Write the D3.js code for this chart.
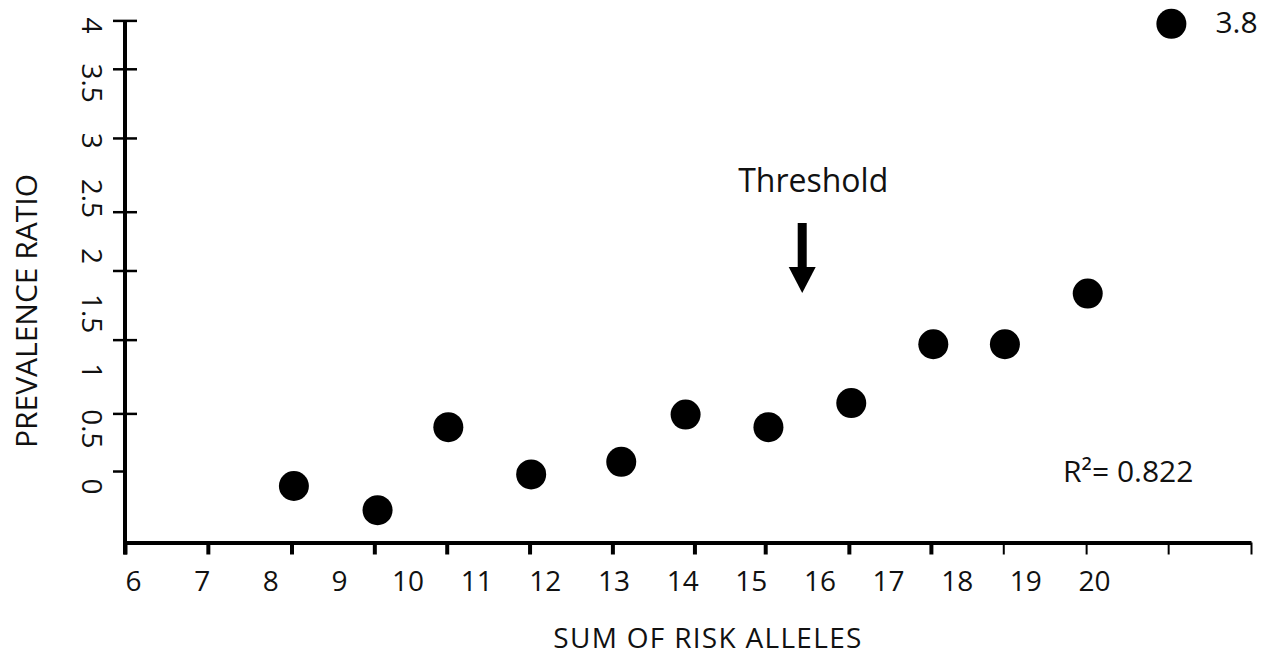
<!DOCTYPE html>
<html>
<head>
<meta charset="utf-8">
<script src="https://cdn.jsdelivr.net/npm/d3@7"></script>
<style>
  html, body { margin: 0; padding: 0; background: #fff; }
  svg text { font-family: "Open Sans", sans-serif; fill: #111; }
</style>
</head>
<body>
<div id="chart"></div>
<script>
// values (axis units of the drawn scales)
const alleles = [8.10, 9.14, 10.02, 11.05, 12.17, 12.97, 14.00, 15.03, 16.05, 16.94, 17.97, 19.01];
const ratios = [0.00, -0.21, 0.51, 0.10, 0.21, 0.62, 0.51, 0.72, 1.23, 1.23, 1.67, 4.01];

const xTickLabels = [6, 7, 8, 9, 10, 11, 12, 13, 14, 15, 16, 17, 18, 19, 20];
const yTickLabels = [0, 0.5, 1, 1.5, 2, 2.5, 3, 3.5, 4];

// tick marks do not sit under their labels in the original
const xTickMarksThick = [6, 7.03, 8.07, 9.10, 10.0, 11.03, 12.06, 13.08, 13.96, 15.0, 16.02];
const xTickMarksThin = [16.92, 17.95, 18.97, 20];
const yTickMarksBoth = [4.04, 3.62, 3.02, 2.38, 1.87, 1.27, 0.63];
const yTickMarksLeft = [0.13];

const topValueLabel = '3.8';
const rSquaredLabel = 'R\u00B2= 0.822';
const thresholdLabel = 'Threshold';
const thresholdAt = 14.42;

const width = 1279;
const height = 658;
const axisY = 542.5;

const svg = d3.select('#chart')
  .append('svg')
  .attr('width', width)
  .attr('height', height);

const xScale = d3.scaleLinear().domain([6, 20]).range([125, 1251]);
const xLabelScale = d3.scaleLinear().domain([6, 20]).range([133, 1094]);
const yScale = d3.scaleLinear().domain([0, 4]).range([486, 25]);

// x axis line + tick marks
const xThick = svg.append('g')
  .attr('transform', `translate(0,${axisY})`)
  .call(d3.axisBottom(xScale).tickValues(xTickMarksThick).tickSize(12).tickSizeOuter(0).tickFormat(''));
xThick.select('.domain').attr('stroke', '#000').attr('stroke-width', 4);
xThick.selectAll('.tick line').attr('stroke', '#000').attr('stroke-width', 4);

const xThin = svg.append('g')
  .attr('transform', `translate(0,${axisY})`)
  .call(d3.axisBottom(xScale).tickValues(xTickMarksThin).tickSize(12).tickFormat(''));
xThin.select('.domain').remove();
xThin.selectAll('.tick line').attr('stroke', '#000').attr('stroke-width', 2);

// x tick labels
const xLabels = svg.append('g')
  .attr('transform', `translate(0,${axisY})`)
  .call(d3.axisBottom(xLabelScale).tickValues(xTickLabels).tickSize(0).tickFormat(d3.format('d')));
xLabels.select('.domain').remove();
xLabels.selectAll('text')
  .attr('y', 48)
  .attr('dy', 0)
  .style('font-size', '28px');

// y axis line
svg.append('line')
  .attr('x1', xScale(6))
  .attr('x2', xScale(6))
  .attr('y1', yScale(yTickMarksBoth[0]))
  .attr('y2', axisY + 12)
  .attr('stroke', '#000')
  .attr('stroke-width', 4);

// y tick marks
[d3.axisLeft, d3.axisRight].forEach(axis => {
  const g = svg.append('g')
    .attr('transform', `translate(${xScale(6)},0)`)
    .call(axis(yScale).tickValues(yTickMarksBoth).tickSize(12).tickFormat(''));
  g.select('.domain').remove();
  g.selectAll('.tick line').attr('stroke', '#000').attr('stroke-width', 2.5);
});
const yLeft = svg.append('g')
  .attr('transform', `translate(${xScale(6)},0)`)
  .call(d3.axisLeft(yScale).tickValues(yTickMarksLeft).tickSize(12).tickFormat(''));
yLeft.select('.domain').remove();
yLeft.selectAll('.tick line').attr('stroke', '#000').attr('stroke-width', 2.5);

// y tick labels, rotated to read downwards
const yLabels = svg.append('g')
  .attr('transform', `translate(${xScale(6)},0)`)
  .call(d3.axisLeft(yScale).tickValues(yTickLabels).tickSize(0).tickFormat(d => String(d)));
yLabels.select('.domain').remove();
yLabels.selectAll('text')
  .attr('x', 0)
  .attr('dy', 0)
  .attr('text-anchor', 'middle')
  .attr('transform', 'translate(-43,0) rotate(90)')
  .style('font-size', '28px');

// axis titles
svg.append('text')
  .attr('x', 708)
  .attr('y', 648)
  .attr('text-anchor', 'middle')
  .style('font-size', '28px')
  .style('letter-spacing', '1.3px')
  .text('SUM OF RISK ALLELES');

svg.append('text')
  .attr('transform', 'translate(37,311) rotate(-90)')
  .attr('text-anchor', 'middle')
  .style('font-size', '30px')
  .text('PREVALENCE RATIO');

// points
svg.append('g')
  .selectAll('circle')
  .data(alleles.map((a, i) => ({ a, r: ratios[i] })))
  .join('circle')
  .attr('cx', d => xScale(d.a))
  .attr('cy', d => yScale(d.r))
  .attr('r', 15)
  .attr('fill', '#000');

// label next to the top point
const last = alleles.length - 1;
svg.append('text')
  .attr('x', xScale(alleles[last]) + 44)
  .attr('y', yScale(ratios[last]) + 9)
  .style('font-size', '30px')
  .text(topValueLabel);

// R squared
svg.append('text')
  .attr('x', 1063)
  .attr('y', 482)
  .style('font-size', '30px')
  .text(rSquaredLabel);

// threshold note and arrow
const ax = xScale(thresholdAt);
svg.append('text')
  .attr('x', ax + 11)
  .attr('y', 192)
  .attr('text-anchor', 'middle')
  .style('font-size', '32px')
  .text(thresholdLabel);

svg.append('rect')
  .attr('x', ax - 4.5)
  .attr('y', 223)
  .attr('width', 9)
  .attr('height', 46)
  .attr('fill', '#000');

svg.append('path')
  .attr('d', d3.line()([[ax - 13.5, 267], [ax + 13.5, 267], [ax, 293]]) + 'Z')
  .attr('fill', '#000');
</script>
</body>
</html>
